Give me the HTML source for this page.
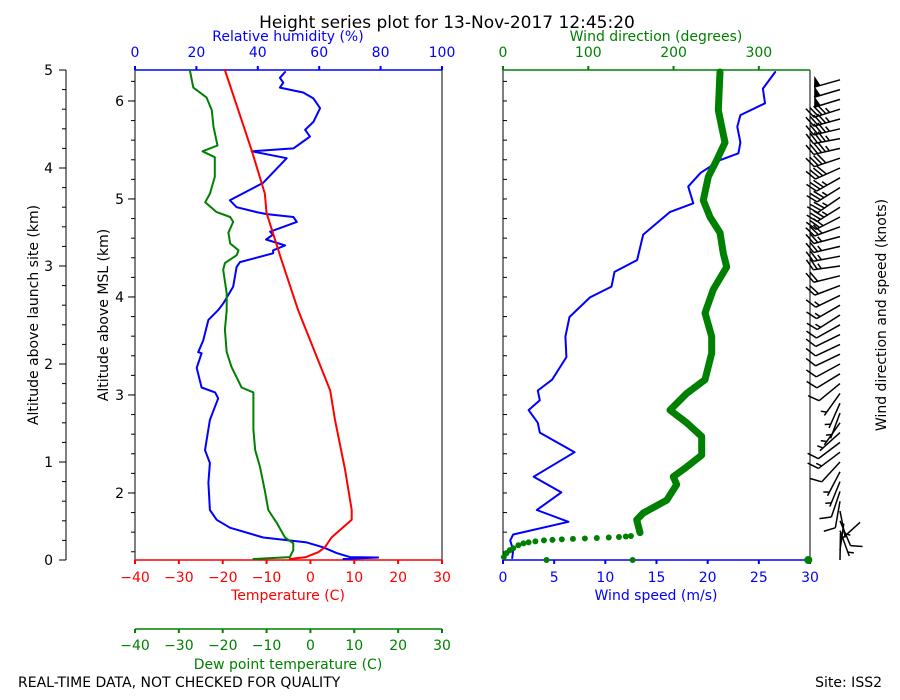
<!DOCTYPE html>
<html><head><meta charset="utf-8"><style>
body{margin:0;background:#fff}
svg{display:block;font-family:"DejaVu Sans","Liberation Sans",sans-serif}
</style></head><body>
<svg id="c" width="900" height="700" viewBox="0 0 900 700"></svg>
<script>
// ---- data (altitude above launch site km, value) ----
const tempAlt=[5.0,4.18,3.74,3.54,3.06,2.55,1.73,1.43,0.92,0.51,0.41,0.23,0.13,0.08,0.03,0.01];
const tempVal=[-19.5,-13.4,-10.4,-10.0,-6.6,-2.8,4.5,5.6,7.9,9.4,9.4,4.8,3.3,1.8,-1.0,-4.7];
const dewAlt=[5.0,4.82,4.72,4.59,4.42,4.23,4.17,4.11,3.91,3.74,3.65,3.55,3.50,3.45,3.34,3.23,3.16,3.11,3.03,2.96,2.72,2.55,2.35,2.12,1.97,1.76,1.71,1.33,1.12,0.95,0.71,0.51,0.38,0.23,0.17,0.10,0.03,0.01];
const dewVal=[-27.5,-26.7,-23.7,-22.5,-22.1,-21.2,-24.6,-21.8,-21.8,-22.9,-24.0,-21.4,-18.3,-17.6,-18.7,-18.3,-16.4,-16.8,-19.5,-19.9,-19.1,-19.1,-19.5,-19.1,-18.0,-15.7,-13.0,-13.0,-12.6,-11.5,-10.4,-9.6,-7.7,-5.8,-3.9,-3.9,-4.7,-13.0];
const rhAlt=[4.98,4.92,4.87,4.82,4.77,4.71,4.61,4.47,4.39,4.32,4.26,4.20,4.17,4.10,3.85,3.67,3.60,3.55,3.53,3.50,3.45,3.35,3.32,3.27,3.21,3.16,3.13,3.04,2.99,2.79,2.62,2.55,2.45,2.24,2.12,2.11,1.96,1.76,1.71,1.65,1.43,1.12,0.99,0.79,0.51,0.41,0.33,0.23,0.18,0.13,0.07,0.03,0.025,0.01];
const rhVal=[48.9,47.2,48.3,47.2,54.8,58.1,60.3,58.1,55.4,57.0,54.3,51.6,38.0,49.4,41.8,30.9,33.1,39.6,42.9,51.6,52.7,44.0,45.0,42.7,48.9,45.0,45.0,34.2,33.1,32.0,28.8,27.1,23.9,22.2,20.6,21.7,20.1,21.7,26.1,27.1,24.4,22.8,24.4,23.9,24.4,26.6,30.9,41.8,55.9,61.3,65.7,70.0,79.2,67.9];
const wsAlt=[4.98,4.81,4.66,4.54,4.42,4.26,4.15,4.08,3.95,3.81,3.64,3.55,3.32,3.06,2.94,2.79,2.68,2.48,2.28,2.07,1.84,1.73,1.63,1.53,1.40,1.30,1.10,0.85,0.69,0.51,0.39,0.26,0.20,0.10,0.02];
const wsVal=[26.6,25.4,25.6,23.2,22.9,23.2,23.0,21.2,19.3,18.1,18.6,16.3,13.7,13.1,10.9,10.6,8.5,6.5,6.1,6.2,4.8,3.4,3.6,2.5,3.4,3.6,7.0,3.0,5.7,3.3,6.4,1.0,0.7,1.0,0.9];
const wdAlt=[4.98,4.59,4.42,4.26,4.08,3.91,3.67,3.50,3.34,3.13,2.99,2.76,2.52,2.28,2.11,1.84,1.70,1.53,1.40,1.26,1.07,0.95,0.85,0.77,0.61,0.48,0.41,0.28,0.245,0.24,0.235,0.23,0.225,0.22,0.215,0.21,0.205,0.20,0.19,0.18,0.17,0.15,0.12,0.10,0.07,0.03];
const wdVal=[254.5,252.5,256.4,260.3,250.6,240.7,234.9,242.7,254.5,258.3,262.3,246.6,236.9,244.7,244.7,236.9,215.4,195.8,215.4,233.0,233.0,215.4,199.7,203.7,192.0,164.5,156.8,160.6,150,144,136,124,110,96,82,69,58,48,38,30,24,18,12,8,4,1];
const wdLooseAlt=[0.0,0.0,0.0];
const wdLooseVal=[51,152,358];
const tempTicks=[-40,-30,-20,-10,0,10,20,30];
const rhTicks=[0,20,40,60,80,100];
const wsTicks=[0,5,10,15,20,25,30];
const wdTicks=[0,100,200,300];
const aglTicks=[0,1,2,3,4,5];
const mslTicks=[2,3,4,5,6];
const MSL_OFFSET=1.316;

// ---- axes ----
const yA=a=>560-a*98;
const xT=t=>135+(t+40)*307/70;
const xRH=r=>135+r*3.07;
const xWS=s=>503+s*307/30;
const xWD=d=>503+d*307/360;

const svg=document.getElementById('c');
const NS='http://www.w3.org/2000/svg';
function mk(tag,at,parent){const e=document.createElementNS(NS,tag);for(const k in at)e.setAttribute(k,at[k]);(parent||svg).appendChild(e);return e;}
function txt(s,x,y,at){const e=mk('text',Object.assign({x:x,y:y,'font-size':14,'text-anchor':'middle'},at||{}));e.textContent=s;return e;}
function line(x1,y1,x2,y2,col,w){return mk('line',{x1,y1,x2,y2,stroke:col,'stroke-width':w||1});}

let t=txt('Height series plot for 13-Nov-2017 12:45:20',447,28,{'font-size':17});

t=txt('Relative humidity (%)',288,41,{fill:'blue'});

t=txt('Wind direction (degrees)',656,41,{fill:'green'});

t=txt('Temperature (C)',288,600,{fill:'red'});

t=txt('Wind speed (m/s)',656,600,{fill:'blue'});

t=txt('Dew point temperature (C)',288,669,{fill:'green'});

t=txt('REAL-TIME DATA, NOT CHECKED FOR QUALITY',18,687,{'text-anchor':'start'});

t=txt('Site: ISS2',882,687,{'text-anchor':'end'});

t=txt('Altitude above launch site (km)',0,0,{transform:'translate(38,315) rotate(-90)'});

t=txt('Altitude above MSL (km)',0,0,{transform:'translate(108,315) rotate(-90)'});

t=txt('Wind direction and speed (knots)',0,0,{transform:'translate(886,315) rotate(-90)'});


// AGL axis
line(66,70,66,560,'#000');
aglTicks.forEach(v=>{line(59,yA(v),66,yA(v),'#000');const e=txt(String(v),53,yA(v)+5,{'text-anchor':'end'});
});
for(let a=0.2;a<5;a+=0.2){line(62,yA(a),66,yA(a),'#000');}

// left panel frame
line(135,70,135,560,'#000');line(442,70,442,560,'#000');
line(135,70,442,70,'blue',1.5);line(135,560,442,560,'red',1.5);
mslTicks.forEach(v=>{const y=yA(v-MSL_OFFSET);line(128,y,135,y,'#000');const e=txt(String(v),124,y+5,{'text-anchor':'end'});
});
for(let m=1.4;m<6.32;m+=0.2){const y=yA(m-MSL_OFFSET);if(y>=70&&y<=560){line(131,y,135,y,'#000');line(503,y,507,y,'#000');}}
rhTicks.forEach(v=>{line(xRH(v),66,xRH(v),70,'blue',2);const e=txt(String(v),xRH(v),57,{fill:'blue'});
});
tempTicks.forEach(v=>{line(xT(v),560,xT(v),564,'red',2);const e=txt(String(v).replace('-','\u2212'),xT(v),582,{fill:'red'});
});
line(135,629,442,629,'green',1.5);
tempTicks.forEach(v=>{line(xT(v),629,xT(v),633,'green',2);const e=txt(String(v).replace('-','\u2212'),xT(v),650,{fill:'green'});
});

// right panel frame
line(503,70,503,560,'#000');line(810,70,810,560,'#000');
line(503,70,810,70,'green',1.5);line(503,560,810,560,'blue',1.5);
wdTicks.forEach(v=>{line(xWD(v),66,xWD(v),70,'green',2);const e=txt(String(v),xWD(v),57,{fill:'green'});
});
wsTicks.forEach(v=>{line(xWS(v),560,xWS(v),564,'blue',2);const e=txt(String(v),xWS(v),582,{fill:'blue'});
});

function poly(alts,vals,fx,col,w,name){
  const pts=alts.map((a,i)=>fx(vals[i]).toFixed(1)+','+yA(a).toFixed(1)).join(' ');
  const p=mk('polyline',{points:pts,fill:'none',stroke:col,'stroke-width':w,'stroke-linejoin':'round','stroke-linecap':'round'});
  
  
  return p;
}
poly(rhAlt,rhVal,xRH,'blue',2,'rh-line');
poly(dewAlt,dewVal,xT,'green',2,'dewpoint-line');
poly(tempAlt,tempVal,xT,'red',2,'temperature-line');
poly(wsAlt,wsVal,xWS,'blue',2,'wind-speed-line');
const dA=[],dV=[];
wdAlt.forEach((a,i)=>{if(a>=0.28){dA.push(a);dV.push(wdVal[i]);}});
poly(dA,dV,xWD,'green',7,'wind-direction-line');
wdAlt.forEach((a,i)=>{if(a<0.28){const c=mk('circle',{cx:xWD(wdVal[i]),cy:yA(a),r:3,fill:'green'});
}});
wdLooseAlt.forEach((a,i)=>{const c=mk('circle',{cx:xWD(wdLooseVal[i]),cy:yA(a),r:i==2?4:3,fill:'green'});
});

// wind barbs
function interp(alts,vals,a){
  for(let i=0;i<alts.length-1;i++){const a0=alts[i],a1=alts[i+1];
    if((a<=a0&&a>=a1)){const f=(a0-a)/(a0-a1||1);return vals[i]+(vals[i+1]-vals[i])*f;}}
  return a>alts[0]?vals[0]:vals[vals.length-1];
}
const barbG=mk('g',{stroke:'#000','stroke-width':1.5,fill:'#000'});


for(let k=0;k<50;k++){
  const a=k*0.1;const ws=interp(wsAlt,wsVal,a)*1.944;const wd=interp(wdAlt,wdVal,a)*Math.PI/180;
  const L=27,bx=840,by=yA(a);
  const dx=Math.sin(wd),dy=-Math.cos(wd);
  let ux=-dy,uy=dx; if(uy>0){ux=-ux;uy=-uy;}
  const tx=bx+dx*L,ty=by+dy*L;
  const g=mk('g',{},barbG);
  
  
  mk('line',{x1:bx,y1:by,x2:tx,y2:ty},g);
  let kt=Math.round(ws/5)*5;let pos=0;const h=0.4*L,sp=0.15*L;
  while(kt>=50){const ax=tx-dx*pos,ay=ty-dy*pos;
    mk('polygon',{points:`${ax},${ay} ${ax+ux*h-dx*0.125*L},${ay+uy*h-dy*0.125*L} ${ax-dx*0.25*L},${ay-dy*0.25*L}`,stroke:'none'},g);
    pos+=0.25*L+sp*0.5;kt-=50;}
  while(kt>=10){const ax=tx-dx*pos,ay=ty-dy*pos;
    mk('line',{x1:ax,y1:ay,x2:ax+ux*h+dx*0.2*L,y2:ay+uy*h+dy*0.2*L},g);pos+=sp;kt-=10;}
  if(kt>=5){if(pos==0)pos=sp;const ax=tx-dx*pos,ay=ty-dy*pos;
    mk('line',{x1:ax,y1:ay,x2:ax+ux*h*0.5+dx*0.1*L,y2:ay+uy*h*0.5+dy*0.1*L},g);}
}
</script>
</body></html>
